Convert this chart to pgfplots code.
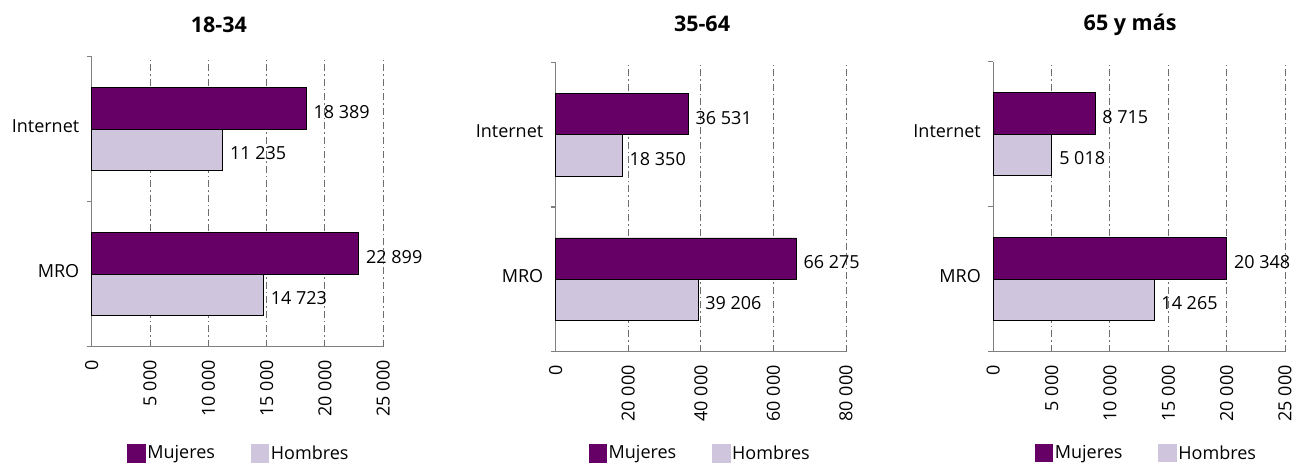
\documentclass[border=0pt]{standalone}
\usepackage{fontspec}
\setmainfont{Open Sans}
\usepackage{pgfplots}
\pgfplotsset{compat=1.18}
\definecolor{mujeres}{RGB}{102,0,102}
\definecolor{hombres}{RGB}{207,198,222}
\definecolor{axisgray}{RGB}{128,128,128}
\definecolor{gridgray}{RGB}{110,110,110}
\newcommand{\lblfont}{\fontsize{18}{21}\selectfont}
\pgfplotsset{
  panel/.style={
    scale only axis, anchor=south west, clip=false,
    axis lines=left,
    axis line style={-, draw=axisgray, line width=1.3pt},
    xmin=0, ymin=0, ymax=2,
    ytick={0.5,1.5}, yticklabels={MRO,Internet},
    minor ytick={0,1,2},
    major y tick style={draw=none},
    minor y tick style={draw=axisgray, line width=1.3pt},
    minor tick length=5pt,
    tick align=outside,
    major x tick style={draw=none},
    xmajorgrids,
    grid style={draw=gridgray, line width=1pt, dash pattern=on 7pt off 3pt on 1.5pt off 3pt},
    scaled x ticks=false,
    xticklabel style={yshift=-9pt, rotate=90, anchor=east, inner sep=0pt},
    yticklabel style={anchor=east, inner sep=0pt, xshift=-8pt, yshift=3pt},
    tick label style={font=\lblfont, text=black},
    bar width=0.286,
    point meta=explicit symbolic,
    nodes near coords,
    nodes near coords style={anchor=west, inner sep=0pt, font=\lblfont, text=black},
    legend columns=2,
    legend style={draw=none, fill=none, anchor=center, font=\lblfont,
      nodes={inner sep=2pt},
      /tikz/every even column/.append style={column sep=34pt}},
    title style={font=\fontsize{21.5}{25}\selectfont\bfseries, anchor=center},
  },
  mbar/.style={xbar, bar shift=0.143, fill=mujeres, draw=black, line width=0.8pt, forget plot,
    every node near coord/.append style={xshift=7pt, yshift=17pt}},
  hbar/.style={xbar, bar shift=-0.143, fill=hombres, draw=black, line width=0.8pt, forget plot,
    every node near coord/.append style={xshift=7pt, yshift=-24pt}},
}
\begin{document}
\begin{tikzpicture}
\useasboundingbox (0,0) rectangle (1302pt,464pt);
% Panel 1: 18-34
\begin{axis}[panel, at={(91.7pt,117.3pt)}, width=291.6pt, height=289.9pt,
  xmax=25000, xtick={0,5000,10000,15000,20000,25000},
  xticklabels={0,5 000,10 000,15 000,20 000,25 000},
  title={18-34}, title style={at={(axis description cs:0.436,1.09)}},
  legend style={at={(axis description cs:0.505,-0.367)}}]
\addplot[mbar] coordinates {(18389,1.5) [18 389] (22899,0.5) [22 899]};
\addplot[hbar] coordinates {(11235,1.5) [11 235] (14723,0.5) [14 723]};
\addlegendimage{legend image code/.code={\fill[mujeres] (0pt,-8.75pt) rectangle (17.5pt,8.75pt);}}
\addlegendentry{Mujeres}
\addlegendimage{legend image code/.code={\fill[hombres] (0pt,-8.75pt) rectangle (17.5pt,8.75pt);}}
\addlegendentry{Hombres}
\end{axis}
% Panel 2: 35-64
\begin{axis}[panel, at={(555.7pt,112.3pt)}, width=290.3pt, height=289.4pt,
  xmax=80000, xtick={0,20000,40000,60000,80000},
  xticklabels={0,20 000,40 000,60 000,80 000},
  title={35-64}, title style={at={(axis description cs:0.504,1.112)}},
  legend style={at={(axis description cs:0.498,-0.35)}}]
\addplot[mbar] coordinates {(36531,1.5) [36 531] (66275,0.5) [66 275]};
\addplot[hbar] coordinates {(18350,1.5) [18 350] (39206,0.5) [39 206]};
\addlegendimage{legend image code/.code={\fill[mujeres] (0pt,-8.75pt) rectangle (17.5pt,8.75pt);}}
\addlegendentry{Mujeres}
\addlegendimage{legend image code/.code={\fill[hombres] (0pt,-8.75pt) rectangle (17.5pt,8.75pt);}}
\addlegendentry{Hombres}
\end{axis}
% Panel 3: 65 y más
\begin{axis}[panel, at={(993.3pt,112.3pt)}, width=291.7pt, height=290pt,
  xmax=25000, xtick={0,5000,10000,15000,20000,25000},
  xticklabels={0,5 000,10 000,15 000,20 000,25 000},
  title={65 y más}, title style={at={(axis description cs:0.469,1.106)}},
  legend style={at={(axis description cs:0.525,-0.349)}}]
\addplot[mbar] coordinates {(8715,1.5) [8 715] (20000,0.5) [20 348]};
\addplot[hbar] coordinates {(5018,1.5) [5 018] (13780,0.5) [14 265]};
\addlegendimage{legend image code/.code={\fill[mujeres] (0pt,-8.75pt) rectangle (17.5pt,8.75pt);}}
\addlegendentry{Mujeres}
\addlegendimage{legend image code/.code={\fill[hombres] (0pt,-8.75pt) rectangle (17.5pt,8.75pt);}}
\addlegendentry{Hombres}
\end{axis}
\end{tikzpicture}
\end{document}
